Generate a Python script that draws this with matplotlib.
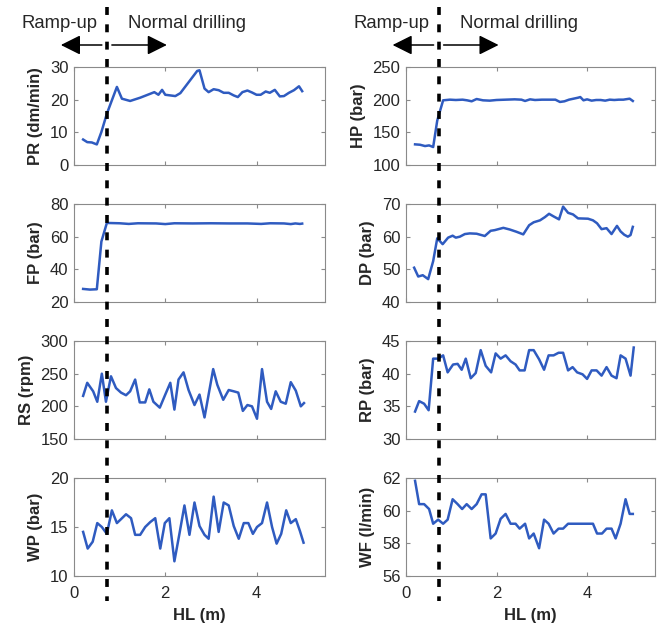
import matplotlib
matplotlib.use("Agg")
import matplotlib.pyplot as plt
from matplotlib.lines import Line2D
from matplotlib.patches import FancyArrowPatch

plt.rcParams['font.family'] = ['Liberation Sans', 'DejaVu Sans']

# ---------------- data ----------------
pr_x = [0.2, 0.29, 0.39, 0.5, 0.6, 0.72, 0.83, 0.94, 1.05, 1.23, 1.45, 1.67, 1.76, 1.85, 1.93, 2.0,
        2.22, 2.33, 2.7, 2.75, 2.86, 2.95, 3.06, 3.17, 3.28, 3.39, 3.5, 3.59, 3.69, 3.8, 3.9, 4.0,
        4.09, 4.2, 4.29, 4.4, 4.51, 4.6, 4.71, 4.82, 4.93, 5.0]
pr_y = [7.8, 7.0, 6.9, 6.3, 10.1, 15.7, 19.8, 23.9, 20.3, 19.6, 20.6, 21.8, 22.3, 21.5, 23.0, 21.5,
        21.1, 22.0, 28.8, 29.0, 23.4, 22.3, 23.2, 22.9, 22.1, 22.1, 21.3, 20.8, 22.3, 22.8, 22.2, 21.5,
        21.5, 22.5, 22.1, 23.0, 21.0, 21.1, 22.1, 22.9, 24.1, 22.6]

hp_x = [0.2, 0.31, 0.42, 0.51, 0.6, 0.69, 0.82, 0.97, 1.1, 1.25, 1.35, 1.45, 1.56, 1.7, 1.85, 2.0,
        2.2, 2.4, 2.55, 2.63, 2.74, 2.85, 3.0, 3.15, 3.3, 3.4, 3.5, 3.6, 3.7, 3.8, 3.85, 3.92, 4.0,
        4.1, 4.2, 4.3, 4.4, 4.5, 4.6, 4.7, 4.8, 4.94, 5.01]
hp_y = [131.6, 131, 129, 130, 127.5, 168, 199, 200, 199.5, 200, 199, 197.5, 201, 199, 198.5, 199.5,
        200, 200.5, 200, 198, 200.5, 199.5, 200, 200, 200, 196.5, 197.5, 200, 201.5, 203, 204, 199, 200.5,
        198.5, 199.5, 199.5, 198.5, 200, 199.5, 200, 200, 201.5, 198]

fp_x = [0.2, 0.35, 0.5, 0.6, 0.72, 1.0, 1.2, 1.4, 1.8, 2.0, 2.2, 2.6, 3.0, 3.4, 3.8, 4.1, 4.3,
        4.6, 4.75, 4.85, 4.95, 5.0]
fp_y = [28.0, 27.6, 27.8, 57.0, 68.4, 68.2, 67.8, 68.2, 68.1, 67.7, 68.2, 68.1, 68.2, 68.1, 68.1,
        67.8, 68.2, 68.1, 67.7, 68.1, 67.8, 68.0]

dp_x = [0.18, 0.27, 0.37, 0.49, 0.6, 0.69, 0.81, 0.93, 1.03, 1.1, 1.19, 1.3, 1.41, 1.56, 1.74, 1.87,
        1.96, 2.15, 2.29, 2.44, 2.59, 2.72, 2.82, 2.96, 3.07, 3.16, 3.26, 3.38, 3.47, 3.58, 3.69, 3.8,
        4.02, 4.13, 4.22, 4.32, 4.43, 4.54, 4.66, 4.74, 4.82, 4.9, 4.96, 5.01]
dp_y = [50.5, 47.8, 48.2, 47.0, 52.5, 59.5, 57.7, 59.7, 60.3, 59.7, 60.0, 60.8, 61.0, 60.9, 60.2, 61.8,
        62.0, 62.7, 62.2, 61.5, 60.7, 63.5, 64.4, 65.0, 66.0, 67.0, 66.2, 65.3, 69.2, 67.3, 66.8, 65.6,
        65.5, 65.0, 64.1, 62.3, 62.6, 60.8, 63.3, 61.6, 60.6, 60.0, 60.5, 63.0]

rs_x = [0.2, 0.29, 0.42, 0.51, 0.61, 0.7, 0.81, 0.92, 1.03, 1.14, 1.23, 1.34, 1.44, 1.56, 1.65, 1.74,
        1.88, 2.0, 2.11, 2.2, 2.29, 2.4, 2.51, 2.64, 2.75, 2.86, 3.05, 3.14, 3.27, 3.39, 3.5, 3.6,
        3.7, 3.8, 3.9, 4.01, 4.12, 4.23, 4.32, 4.42, 4.53, 4.64, 4.75, 4.86, 4.97, 5.04]
rs_y = [216, 236, 223, 207, 250, 207, 246, 228, 221, 217, 223, 241, 206, 206, 226, 207,
        198, 218, 236, 195, 241, 252, 225, 202, 218, 183, 257, 233, 210, 225, 223, 221,
        193, 202, 200, 181, 257, 207, 196, 223, 207, 204, 237, 224, 200, 205]

rp_x = [0.2, 0.29, 0.4, 0.5, 0.6, 0.71, 0.82, 0.92, 1.04, 1.14, 1.23, 1.32, 1.43, 1.54, 1.65, 1.76,
        1.88, 1.98, 2.09, 2.2, 2.31, 2.42, 2.51, 2.62, 2.72, 2.82, 2.94, 3.05, 3.15, 3.26, 3.37, 3.47,
        3.58, 3.68, 3.78, 3.9, 4.0, 4.1, 4.21, 4.32, 4.43, 4.54, 4.65, 4.74, 4.85, 4.96, 5.03]
rp_y = [34.2, 35.8, 35.4, 34.4, 42.3, 42.3, 42.8, 40.2, 41.4, 41.5, 40.6, 42.3, 39.3, 40.1, 43.6, 41.2,
        40.2, 43.1, 42.3, 42.8, 41.9, 41.4, 40.5, 40.5, 43.6, 43.6, 42.2, 40.6, 42.8, 42.8, 43.2, 43.2,
        40.5, 41.0, 40.2, 39.9, 39.2, 40.5, 40.5, 39.7, 41.0, 39.7, 39.3, 42.8, 42.3, 39.7, 44.0]

wp_x = [0.2, 0.3, 0.41, 0.51, 0.61, 0.72, 0.83, 0.94, 1.03, 1.14, 1.25, 1.34, 1.45, 1.56, 1.67, 1.78,
        1.89, 1.99, 2.09, 2.2, 2.31, 2.42, 2.53, 2.64, 2.75, 2.86, 2.95, 3.06, 3.17, 3.28, 3.39, 3.5,
        3.61, 3.72, 3.82, 3.92, 4.01, 4.12, 4.23, 4.34, 4.44, 4.54, 4.65, 4.75, 4.86, 4.95, 5.03]
wp_y = [14.5, 12.8, 13.5, 15.4, 15.0, 14.3, 16.7, 15.4, 15.8, 16.3, 15.9, 14.2, 14.2, 15.0, 15.5, 15.9,
        12.8, 15.4, 15.9, 11.5, 14.3, 17.2, 14.2, 17.5, 15.1, 14.2, 13.8, 18.1, 14.5, 17.5, 17.2, 15.1,
        13.8, 15.4, 15.4, 14.3, 15.0, 15.4, 17.5, 15.0, 13.3, 14.3, 16.7, 15.4, 15.8, 14.6, 13.4]

wf_x = [0.2, 0.29, 0.4, 0.51, 0.6, 0.71, 0.82, 0.92, 1.03, 1.14, 1.24, 1.34, 1.45, 1.56, 1.67, 1.76,
        1.87, 1.98, 2.09, 2.2, 2.31, 2.42, 2.51, 2.63, 2.72, 2.82, 2.94, 3.05, 3.15, 3.26, 3.37, 3.47,
        3.58, 4.13, 4.22, 4.33, 4.43, 4.54, 4.63, 4.74, 4.85, 4.94, 5.01]
wf_y = [61.83, 60.4, 60.4, 60.1, 59.2, 59.45, 59.2, 59.45, 60.7, 60.4, 60.1, 60.4, 60.1, 60.4, 61.0, 61.0,
        58.3, 58.6, 59.5, 59.8, 59.2, 59.2, 58.9, 59.2, 58.3, 58.6, 57.7, 59.45, 59.2, 58.6, 58.9, 58.9,
        59.2, 59.2, 58.6, 58.6, 58.9, 58.9, 58.3, 59.2, 60.7, 59.8, 59.8]

left_labels = ["PR (dm/min)", "FP (bar)", "RS (rpm)", "WP (bar)"]
right_labels = ["HP (bar)", "DP (bar)", "RP (bar)", "WF (l/min)"]
left_series = [(pr_x, pr_y), (fp_x, fp_y), (rs_x, rs_y), (wp_x, wp_y)]
right_series = [(hp_x, hp_y), (dp_x, dp_y), (rp_x, rp_y), (wf_x, wf_y)]
left_ylims = [(0, 30), (20, 80), (150, 300), (10, 20)]
right_ylims = [(100, 250), (40, 70), (30, 45), (56, 62)]
left_yticks = [[0, 10, 20, 30], [20, 40, 60, 80], [150, 200, 250, 300], [10, 15, 20]]
right_yticks = [[100, 150, 200, 250], [40, 50, 60, 70], [30, 35, 40, 45], [56, 58, 60, 62]]
x_ticks = [0, 2, 4]
x_label = "HL (m)"
boundary_hl = 0.72
phase_labels = ["Ramp-up", "Normal drilling"]

# ---------------- figure ----------------
W, H = 665, 626
fig = plt.figure(figsize=(W / 100, H / 100), dpi=100)

line_color = "#2f5bc0"
spine_color = "#8a8a8a"
text_color = "#262626"

col_left = [74 / W, 406 / W]
col_width = [251 / W, 249 / W]
row_bottom = [165, 302, 439, 576]
ax_h = 98 / H

columns = [(left_series, left_labels, left_ylims, left_yticks),
           (right_series, right_labels, right_ylims, right_yticks)]

axes_cols = []
for c, (series, labels, ylims, yticks) in enumerate(columns):
    col_axes = []
    for r in range(4):
        ax = fig.add_axes([col_left[c], 1 - row_bottom[r] / H, col_width[c], ax_h])
        xs, ys = series[r]
        ax.plot(xs, ys, color=line_color, lw=1.8)
        ax.set_xlim(0, 5.5)
        ax.set_ylim(*ylims[r])
        ax.set_yticks(yticks[r])
        ax.set_xticks(x_ticks)
        ax.tick_params(direction="in", top=True, right=True, length=3, width=0.8,
                       color=spine_color, labelsize=12, labelcolor=text_color, pad=4)
        ax.tick_params(axis="x", pad=7)
        for s in ax.spines.values():
            s.set_color(spine_color)
            s.set_linewidth(0.8)
        ax.set_ylabel(labels[r], fontsize=12, fontweight="bold", color=text_color, labelpad=5)
        if r < 3:
            ax.set_xticklabels([])
        else:
            ax.set_xlabel(x_label, fontsize=12, fontweight="bold", color=text_color, labelpad=5)
        col_axes.append(ax)
    axes_cols.append(col_axes)

fig.canvas.draw()
inv = fig.transFigure.inverted()
for c in range(2):
    ax = axes_cols[c][0]
    px, _ = ax.transData.transform((boundary_hl, 0))
    fx, _ = inv.transform((px, 0))
    # dashed boundary through the whole column
    fig.add_artist(Line2D([fx, fx], [1 - 7 / H, 1 - 601 / H], transform=fig.transFigure,
                          color="black", lw=2.6, dashes=(2.2, 2.6), zorder=10))
    # header labels
    fig.text(fx - 9 / W, 1 - 23 / H, phase_labels[0], ha="right", va="center",
             fontsize=13.3, color=text_color)
    fig.text(fx + 21 / W, 1 - 23 / H, phase_labels[1], ha="left", va="center",
             fontsize=13.3, color=text_color)
    # arrows
    ay = 1 - 45 / H
    fig.add_artist(FancyArrowPatch(
        (fx - 5 / W, ay), (fx - 46 / W, ay), transform=fig.transFigure,
        arrowstyle="-|>,head_length=0.6,head_width=0.3", mutation_scale=20,
        color="black", lw=1.1, shrinkA=0, shrinkB=0))
    fig.add_artist(FancyArrowPatch(
        (fx + 5 / W, ay), (fx + 60 / W, ay), transform=fig.transFigure,
        arrowstyle="-|>,head_length=0.6,head_width=0.3", mutation_scale=20,
        color="black", lw=1.1, shrinkA=0, shrinkB=0))

fig.savefig("out.png", dpi=100)
